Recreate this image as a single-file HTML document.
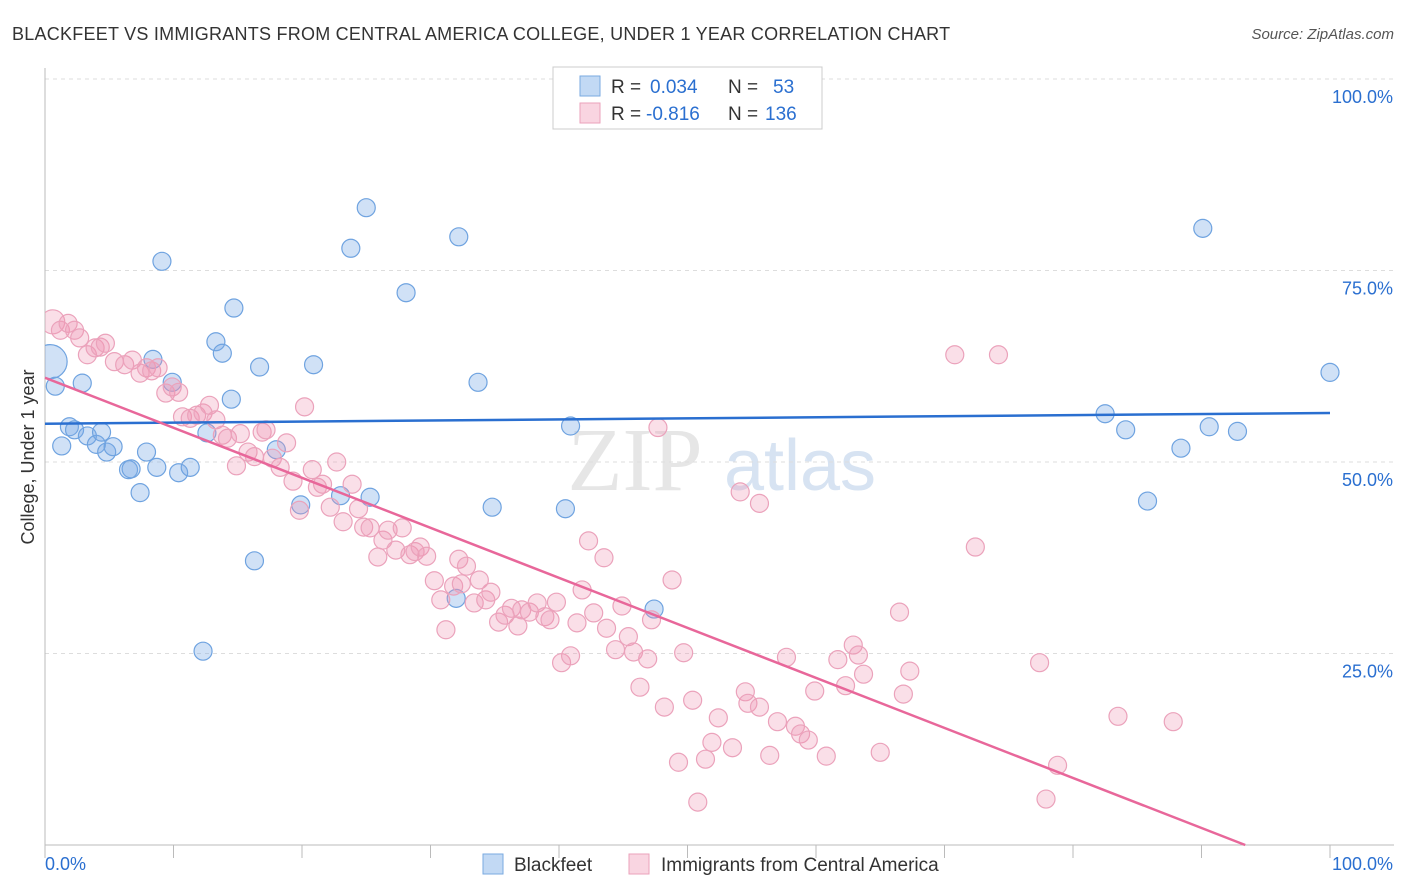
<!DOCTYPE html>
<html><head><meta charset="utf-8"><style>
body{margin:0;background:#fff;font-family:"Liberation Sans",sans-serif}
svg{display:block}
</style></head><body>
<svg id="chart" width="1406" height="892" xmlns="http://www.w3.org/2000/svg">
<text x="12" y="40" font-size="18" fill="#333" letter-spacing="0.24">BLACKFEET VS IMMIGRANTS FROM CENTRAL AMERICA COLLEGE, UNDER 1 YEAR CORRELATION CHART</text>
<text x="1394" y="39" font-size="15" fill="#555" font-style="italic" text-anchor="end">Source: ZipAtlas.com</text>
<text x="0" y="0" transform="translate(34,457) rotate(-90)" font-size="18" fill="#333" text-anchor="middle">College, Under 1 year</text>
<g><text x="635" y="490" font-size="90" font-family="Liberation Serif" fill="#e6e6e6" text-anchor="middle">ZIP</text><text x="800" y="490" font-size="72" fill="#d7e3f2" text-anchor="middle">atlas</text></g>
<g id="grid"></g><g id="axes"></g><g id="pts"></g><g id="lines"></g>
<g>
<rect x="553" y="67" width="269" height="62" fill="#fff" stroke="#ccc"/>
<rect x="580" y="76" width="20" height="20" fill="rgba(120,170,230,0.45)" stroke="#7aaae0"/>
<rect x="580" y="103" width="20" height="20" fill="rgba(240,150,180,0.4)" stroke="#eba2bb"/>
<text x="611" y="93" font-size="19" fill="#333">R = <tspan fill="#2a6fd0" x="650">0.034</tspan><tspan x="728">N = </tspan><tspan fill="#2a6fd0" x="773">53</tspan></text>
<text x="611" y="120" font-size="19" fill="#333">R = <tspan fill="#2a6fd0" x="646">-0.816</tspan><tspan x="728">N = </tspan><tspan fill="#2a6fd0" x="765">136</tspan></text>
</g>
<g>
<rect x="483" y="854" width="20" height="20" fill="rgba(120,170,230,0.45)" stroke="#7aaae0"/>
<text x="514" y="871" font-size="19" fill="#333">Blackfeet</text>
<rect x="629" y="854" width="20" height="20" fill="rgba(240,150,180,0.4)" stroke="#eba2bb"/>
<text x="661" y="871" font-size="19" fill="#333">Immigrants from Central America</text>
</g>
</svg>
<script>
const yTicks=[25,50,75,100];
const yTickLabels=["25.0%","50.0%","75.0%","100.0%"];
const xTicks=[0,10,20,30,40,50,60,70,80,90,100];
const blueX=[0.4,0.8,2.9,1.3,1.9,2.3,3.3,4.0,4.4,4.8,5.3,6.5,6.7,7.4,7.9,8.4,8.7,9.1,9.9,10.4,11.3,12.6,12.3,13.3,13.8,14.5,14.7,16.3,16.7,18.0,19.9,20.9,23.0,23.8,25.0,25.3,28.1,32.0,32.2,33.7,34.8,40.5,40.9,47.4,82.5,84.1,85.8,88.4,90.1,90.6,92.8,100];
const blueY=[63.1,59.9,60.3,52.1,54.6,54.2,53.4,52.3,53.9,51.3,52.0,49.0,49.1,46.0,51.3,63.4,49.3,76.2,60.4,48.6,49.3,53.8,25.3,65.7,64.2,58.2,70.1,37.1,62.4,51.6,44.4,62.7,45.6,77.9,83.2,45.4,72.1,32.2,79.4,60.4,44.1,43.9,54.7,30.8,56.3,54.2,44.9,51.8,80.5,54.6,54.0,61.7];
const pinkX=[0.6,1.2,1.8,2.3,2.7,3.3,3.9,4.3,4.7,5.4,6.2,6.8,7.4,7.9,8.3,8.8,9.4,9.9,10.4,10.7,11.3,11.8,12.3,12.8,13.3,13.8,14.2,14.9,15.2,15.8,16.3,16.9,17.2,17.7,18.3,18.8,19.3,19.8,20.2,20.8,21.2,21.6,22.2,22.7,23.2,23.9,24.4,24.8,25.3,25.9,26.3,26.7,27.3,27.8,28.4,28.8,29.2,29.7,30.3,30.8,31.2,31.8,32.2,32.4,32.8,33.4,33.8,34.3,34.7,35.3,35.8,36.3,36.8,37.1,37.7,38.3,38.9,39.3,39.8,40.2,40.9,41.4,41.8,42.3,42.7,43.5,43.7,44.4,44.9,45.4,45.8,46.3,46.9,47.2,48.2,48.8,49.3,49.7,50.4,50.8,51.4,51.9,52.4,53.5,54.1,54.5,54.7,55.6,55.6,56.4,57.0,57.7,58.4,58.8,59.4,59.9,60.8,61.7,62.3,62.9,63.3,63.7,65.0,66.5,66.8,67.3,70.8,72.4,74.2,77.4,77.9,78.8,83.5,87.8,47.7];
const pinkY=[68.3,67.2,68.1,67.2,66.2,64.0,64.9,65.0,65.5,63.1,62.7,63.3,61.6,62.3,61.9,62.3,59.0,59.8,59.1,55.9,55.7,56.1,56.4,57.4,55.5,53.5,53.1,49.5,53.7,51.3,50.7,53.9,54.2,50.5,49.3,52.5,47.5,43.7,57.2,49.0,46.7,47.1,44.1,50.0,42.2,47.1,43.9,41.5,41.4,37.6,39.8,41.1,38.5,41.4,37.9,38.3,38.9,37.7,34.5,32.0,28.1,33.8,37.3,34.1,36.4,31.6,34.6,32.0,33.0,29.1,30.0,30.9,28.6,30.7,30.4,31.6,29.8,29.4,31.7,23.8,24.7,29.0,33.3,39.7,30.3,37.5,28.3,25.5,31.2,27.2,25.2,20.6,24.3,29.4,18.0,34.6,10.8,25.1,18.9,5.6,11.2,13.4,16.6,12.7,46.1,20.0,18.5,44.6,18.0,11.7,16.1,24.5,15.5,14.5,13.7,20.1,11.6,24.2,20.8,26.1,24.8,22.3,12.1,30.4,19.7,22.7,64.0,38.9,64.0,23.8,6.0,10.4,16.8,16.1,54.5];
const blueTrend=[55.0,56.4];
const pinkTrend=[61.0,0,93.4];
const NS="http://www.w3.org/2000/svg";
const X0=45,X1=1330,Y0=845,Y1=79;
function sx(v){return X0+(X1-X0)*v/100;}
function sy(v){return Y0-(Y0-Y1)*v/100;}
function mk(tag,at,parent){const e=document.createElementNS(NS,tag);for(const k in at)e.setAttribute(k,at[k]);document.getElementById(parent).appendChild(e);return e;}
let g=mk('line',{x1:X0,x2:1394,y1:sy(100),y2:sy(100),stroke:'#ddd','stroke-dasharray':'4,4'},'grid');


yTicks.forEach((t,i)=>{
 const l=mk('line',{x1:X0,x2:1394,y1:sy(t),y2:sy(t),stroke:'#ddd','stroke-dasharray':'4,4'},'grid');
 
 
 const tx=mk('text',{x:1393,y:sy(t)+24,'font-size':18,fill:'#2a6fd0','text-anchor':'end'},'axes');
 tx.textContent=yTickLabels[i];
 
 
});
let a=mk('line',{x1:X0,x2:X0,y1:68,y2:Y0,stroke:'#bbb'},'axes');


a=mk('line',{x1:X0,x2:1394,y1:Y0,y2:Y0,stroke:'#bbb'},'axes');


xTicks.forEach(t=>{
 const l=mk('line',{x1:sx(t),x2:sx(t),y1:Y0,y2:Y0+13,stroke:'#bbb'},'axes');
 
 
});
let xl=mk('text',{x:45,y:870,'font-size':18,fill:'#2a6fd0'},'axes');xl.textContent='0.0%';


xl=mk('text',{x:1393,y:870,'font-size':18,fill:'#2a6fd0','text-anchor':'end'},'axes');xl.textContent='100.0%';


const cp=mk('clipPath',{id:'cp'},'pts');
const cr=document.createElementNS(NS,'rect');
cr.setAttribute('x',X0);cr.setAttribute('y',0);cr.setAttribute('width',1400);cr.setAttribute('height',Y0);
cp.appendChild(cr);
blueX.forEach((v,i)=>{
 const c=mk('circle',{cx:sx(v),cy:sy(blueY[i]),r:i==0?17:9,fill:'rgba(120,170,230,0.35)',stroke:'#6fa3e0','stroke-width':1.2,'clip-path':'url(#cp)'},'pts');
 
 
});
pinkX.forEach((v,i)=>{
 const c=mk('circle',{cx:sx(v),cy:sy(pinkY[i]),r:i==0?12:9,fill:'rgba(240,150,180,0.3)',stroke:'#eba2bb','stroke-width':1.2,'clip-path':'url(#cp)'},'pts');
 
 
});
let t=mk('line',{x1:sx(0),y1:sy(blueTrend[0]),x2:sx(100),y2:sy(blueTrend[1]),stroke:'#2a6fd0','stroke-width':2.5},'lines');


t=mk('line',{x1:sx(0),y1:sy(pinkTrend[0]),x2:sx(pinkTrend[2]),y2:sy(pinkTrend[1]),stroke:'#e8679a','stroke-width':2.5},'lines');


</script>
</body></html>
